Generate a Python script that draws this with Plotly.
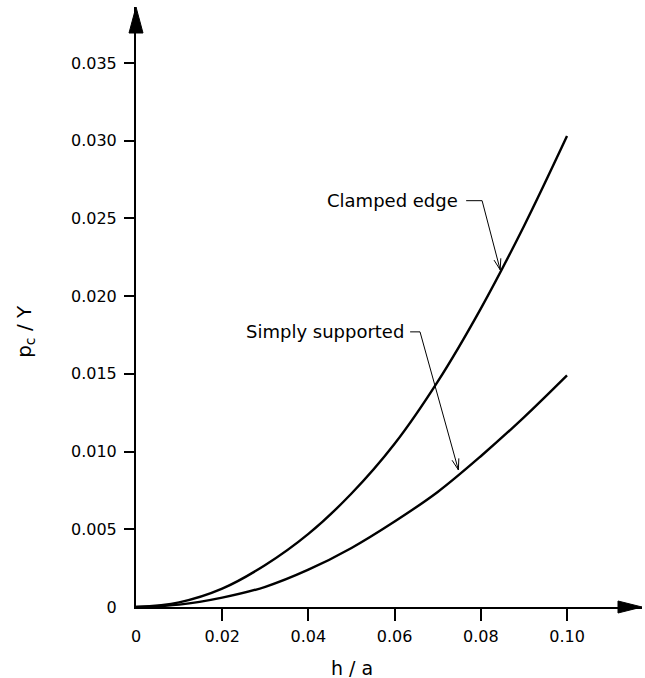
import math
import plotly.graph_objects as go

# Buckling pressure ratio p_c/Y against thickness ratio h/a
h_over_a = [0, 0.01, 0.02, 0.03, 0.04, 0.05, 0.06, 0.07, 0.08, 0.09, 0.10]
clamped_edge = [0, 0.0003, 0.00118, 0.0027, 0.0047, 0.0073, 0.0105, 0.0145, 0.0192, 0.0245, 0.0303]
simply_supported = [0, 0.00015, 0.0006, 0.0013, 0.0024, 0.0038, 0.0055, 0.0074, 0.0097, 0.0122, 0.0149]

x_ticks = [0, 0.02, 0.04, 0.06, 0.08, 0.10]
x_tick_text = ["0", "0.02", "0.04", "0.06", "0.08", "0.10"]
y_ticks = [0, 0.005, 0.010, 0.015, 0.020, 0.025, 0.030, 0.035]
y_tick_text = ["0", "0.005", "0.010", "0.015", "0.020", "0.025", "0.030", "0.035"]

X_MAX = 0.1174
Y_MAX = 0.0386
FONT = "DejaVu Sans"
W, H = 645, 678
M = dict(l=136, r=3, t=7, b=71)
plot_w = W - M["l"] - M["r"]
plot_h = H - M["t"] - M["b"]
sx, sy = plot_w / X_MAX, plot_h / Y_MAX  # pixels per data unit

fig = go.Figure()
for ys in (clamped_edge, simply_supported):
    fig.add_trace(go.Scatter(
        x=h_over_a, y=ys, mode="lines",
        line=dict(color="black", width=2.4, shape="spline", smoothing=1.0),
        cliponaxis=False, showlegend=False, hoverinfo="skip",
    ))

# Arrowheads at the ends of the axes (paper coordinates so they are not clipped)
head_len_x, head_half_x = 24 / plot_w, 6 / plot_h
fig.add_shape(type="path", xref="paper", yref="paper",
              path=f"M {1 - head_len_x},{-head_half_x} L 1,0 L {1 - head_len_x},{head_half_x} Z",
              fillcolor="black", line=dict(color="black", width=1))
head_len_y, head_half_y = 26 / plot_h, 7 / plot_w
fig.add_shape(type="path", xref="paper", yref="paper",
              path=f"M {-head_half_y},{1 - head_len_y} L 0,1 L {head_half_y},{1 - head_len_y} Z",
              fillcolor="black", line=dict(color="black", width=1))

# Labels with leader lines ending in open arrowheads
labels = [
    ("Clamped edge", 0.0752, 0.02614, 0.0766, 0.0803, 0.0845, 0.02169),
    ("Simply supported", 0.0627, 0.0177, 0.0636, 0.0659, 0.0748, 0.00882),
]
for text, tx, ty, lx0, lx1, px, py in labels:
    fig.add_annotation(x=tx, y=ty, xref="x", yref="y", text=text, showarrow=False,
                       xanchor="right", yanchor="middle",
                       font=dict(family=FONT, size=18, color="black"))
    # direction from tip back to the corner, in pixel space
    ux, uy = (lx1 - px) * sx, (ty - py) * sy
    n = math.hypot(ux, uy)
    ux, uy = ux / n, uy / n
    hl, hw = 11, 3.5
    wing1 = (px + (hl * ux - hw * uy) / sx, py + (hl * uy + hw * ux) / sy)
    wing2 = (px + (hl * ux + hw * uy) / sx, py + (hl * uy - hw * ux) / sy)
    fig.add_shape(type="path", xref="x", yref="y",
                  path=(f"M {lx0},{ty} L {lx1},{ty} L {px},{py} "
                        f"M {wing1[0]},{wing1[1]} L {px},{py} L {wing2[0]},{wing2[1]}"),
                  line=dict(color="black", width=1))

# Axis titles
fig.add_annotation(x=0.05, y=0, xref="x", yref="paper", yshift=-61,
                   text="h / a", showarrow=False, yanchor="middle",
                   font=dict(family=FONT, size=19, color="black"))
fig.add_annotation(x=(25 - M["l"]) / plot_w, y=0.0177, xref="paper", yref="y",
                   xanchor="center", yanchor="middle",
                   textangle=-90, text="p<sub>c</sub> / Y", showarrow=False,
                   font=dict(family=FONT, size=20, color="black"))

fig.update_layout(
    width=W, height=H,
    margin=M,
    paper_bgcolor="white", plot_bgcolor="white",
    xaxis=dict(range=[0, X_MAX], showgrid=False, zeroline=False,
               showline=True, linecolor="black", linewidth=2,
               tickmode="array", tickvals=x_ticks, ticktext=x_tick_text,
               ticks="", ticklabelstandoff=14,
               tickfont=dict(family=FONT, size=16, color="black"),
               minor=dict(tickvals=x_ticks[1:], ticks="outside", ticklen=12,
                          tickwidth=1.5, tickcolor="black")),
    yaxis=dict(range=[0, Y_MAX], showgrid=False, zeroline=False,
               showline=True, linecolor="black", linewidth=2,
               tickmode="array", tickvals=y_ticks, ticktext=y_tick_text,
               ticks="", ticklabelstandoff=14,
               tickfont=dict(family=FONT, size=16, color="black"),
               minor=dict(tickvals=y_ticks[1:], ticks="outside", ticklen=10,
                          tickwidth=1.5, tickcolor="black")),
)

fig.write_html("out.html")
